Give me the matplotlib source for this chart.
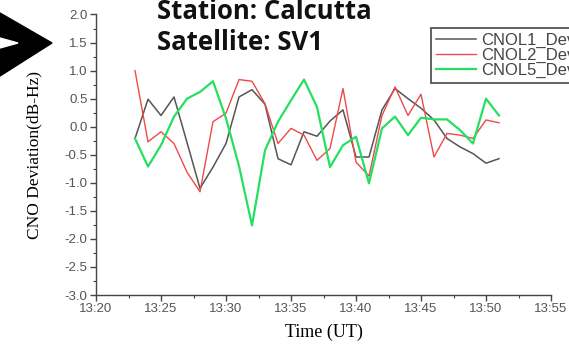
"""
CNO deviation time series for one station / satellite.
"""

import matplotlib
matplotlib.use("Agg")  # non-interactive backend
import matplotlib.dates as mdates
import matplotlib.pyplot as plt
import pandas as pd
from matplotlib.patches import Polygon
from matplotlib.ticker import FormatStrFormatter, MultipleLocator

# ---------------------------------------------------------------------------
# Data (one sample per minute, UT)
# ---------------------------------------------------------------------------

times = [
    "13:23", "13:24", "13:25", "13:26", "13:27", "13:28", "13:29", "13:30",
    "13:31", "13:32", "13:33", "13:34", "13:35", "13:36", "13:37", "13:38",
    "13:39", "13:40", "13:41", "13:42", "13:43", "13:44", "13:45", "13:46",
    "13:47", "13:48", "13:49", "13:50", "13:51",
]

cnol1_dev = [
    -0.21, 0.49, 0.20, 0.53, -0.28, -1.10, -0.72, -0.30,
    0.53, 0.66, 0.40, -0.57, -0.68, -0.09, -0.17, 0.10,
    0.30, -0.54, -0.54, 0.30, 0.68, 0.50, 0.33, 0.12,
    -0.21, -0.36, -0.48, -0.65, -0.57,
]

cnol2_dev = [
    1.00, -0.27, -0.09, -0.30, -0.81, -1.16, 0.09, 0.24,
    0.84, 0.81, 0.41, -0.30, -0.03, -0.15, -0.60, -0.39,
    0.68, -0.63, -0.88, 0.20, 0.71, 0.20, 0.58, -0.54,
    -0.12, -0.15, -0.21, 0.12, 0.07,
]

cnol5_dev = [
    -0.21, -0.71, -0.33, 0.18, 0.50, 0.62, 0.81, 0.15,
    -0.70, -1.76, -0.42, 0.09, 0.47, 0.84, 0.35, -0.72,
    -0.33, -0.18, -1.01, -0.03, 0.18, -0.15, 0.16, 0.13,
    0.13, -0.06, -0.30, 0.50, 0.20,
]

series_labels = ["CNOL1_Deviation", "CNOL2_Deviation", "CNOL5_Deviation"]
station = "Calcutta"
satellite = "SV1"

W, H = 569, 347


def fx(px):
    return px / W


def fy(py):
    return 1 - py / H


t = pd.to_datetime(["2000-01-01 " + s for s in times])
x_start = pd.Timestamp("2000-01-01 13:20")
x_end = pd.Timestamp("2000-01-01 13:55")

fig = plt.figure(figsize=(W / 100, H / 100), dpi=100)
ax = fig.add_axes([fx(96), fy(295), fx(551) - fx(96), fy(14.5) - fy(295)])

ax.plot(t, cnol1_dev, color="#555555", lw=1.1, label=series_labels[0])
ax.plot(t, cnol2_dev, color="#ee4a4a", lw=1.0, label=series_labels[1])
ax.plot(t, cnol5_dev, color="#25e060", lw=1.6, label=series_labels[2])

ax.set_xlim(x_start, x_end)
ax.set_ylim(-3.0, 2.0)

ax.xaxis.set_major_locator(mdates.MinuteLocator(byminute=range(0, 60, 5)))
ax.xaxis.set_major_formatter(mdates.DateFormatter("%H:%M"))
# minor ticks half way between majors (every 2.5 min)
minor_ticks = [mdates.date2num(x_start + pd.Timedelta(seconds=150 * k)) for k in range(1, 14, 2)]
ax.set_xticks(minor_ticks, minor=True)

ax.yaxis.set_major_locator(MultipleLocator(0.5))
ax.yaxis.set_minor_locator(MultipleLocator(0.25))
ax.yaxis.set_major_formatter(FormatStrFormatter("%.1f"))

for side in ("top", "right"):
    ax.spines[side].set_visible(False)
for side in ("left", "bottom"):
    ax.spines[side].set_color("#444444")
    ax.spines[side].set_linewidth(1.0)

ax.tick_params(which="major", direction="out", length=4, width=1.0, color="#444444",
               labelsize=9.5, labelcolor="#555555", pad=2)
ax.tick_params(which="minor", direction="out", length=2.5, width=0.8, color="#444444")
for lab in ax.get_xticklabels() + ax.get_yticklabels():
    lab.set_family("Liberation Sans")

ax.set_xlabel("Time (UT)", family="Liberation Serif", fontsize=13, labelpad=6)
ax.set_ylabel("CNO Deviation(dB-Hz)", family="Liberation Serif", fontsize=12.5, labelpad=16)

leg = fig.legend(loc="upper left", bbox_to_anchor=(fx(431), fy(28)),
                 prop={"family": "Liberation Sans", "size": 12},
                 handlelength=2.4, handletextpad=0.3, labelspacing=0.0,
                 borderpad=0.3, borderaxespad=0, fancybox=False, framealpha=1)
leg.get_frame().set_edgecolor("#555555")
leg.get_frame().set_linewidth(1.3)
for txt in leg.get_texts():
    txt.set_color("#444444")

fig.text(fx(157), fy(19), f"Station: {station}", family="Open Sans", weight="bold",
         fontsize=18.5, va="baseline", ha="left", color="#111111")
fig.text(fx(157), fy(50.5), f"Satellite: {satellite}", family="Open Sans", weight="bold",
         fontsize=18.5, va="baseline", ha="left", color="#111111")

# pointer arrow at the left edge
arrow = Polygon([(fx(0), fy(13)), (fx(52), fy(43)), (fx(0), fy(76))],
                closed=True, transform=fig.transFigure, color="black")
notch = Polygon([(fx(0), fy(38)), (fx(18), fy(43)), (fx(0), fy(48))],
                closed=True, transform=fig.transFigure, color="white")
fig.patches.extend([arrow, notch])

fig.savefig("out.png", dpi=100)
